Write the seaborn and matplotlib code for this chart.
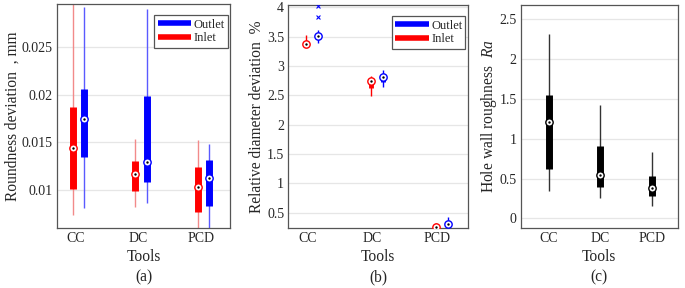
import numpy as np
import pandas as pd
import matplotlib
matplotlib.use("Agg")
import matplotlib.pyplot as plt
from matplotlib.lines import Line2D
import seaborn as sns

# ---------------- data ----------------
tools = ["CC", "DC", "PCD"]

# (a) roundness deviation, mm
a_in_lo  = [0.0074, 0.0082, 0.0058]
a_in_q1  = [0.0101, 0.0099, 0.0077]
a_in_med = [0.0144, 0.0117, 0.0103]
a_in_q3  = [0.0187, 0.0130, 0.0124]
a_in_hi  = [0.0300, 0.0153, 0.0152]
a_out_lo  = [0.0081, 0.0086, 0.0055]
a_out_q1  = [0.0135, 0.0108, 0.0083]
a_out_med = [0.0174, 0.0129, 0.0112]
a_out_q3  = [0.0206, 0.0199, 0.0131]
a_out_hi  = [0.0292, 0.0290, 0.0148]

# (b) relative diameter deviation, %
b_in_lo  = [3.33, 2.49, 0.20]
b_in_q1  = [3.35, 2.63, 0.23]
b_in_med = [3.37, 2.74, 0.26]
b_in_q3  = [3.39, 2.70, 0.29]
b_in_hi  = [3.53, 2.83, 0.33]
b_out_lo  = [3.40, 2.65, 0.27]
b_out_q1  = [3.48, 2.72, 0.28]
b_out_med = [3.52, 2.82, 0.31]
b_out_q3  = [3.56, 2.77, 0.36]
b_out_hi  = [3.62, 2.94, 0.42]
b_out_outliers = [[4.02, 3.83], [], []]

# (c) hole wall roughness Ra
c_lo  = [0.34, 0.26, 0.16]
c_q1  = [0.62, 0.39, 0.28]
c_med = [1.21, 0.55, 0.38]
c_q3  = [1.55, 0.91, 0.53]
c_hi  = [2.32, 1.43, 0.84]

# ---------------- style ----------------
sns.set_theme(style="white")
plt.rcParams["font.family"] = ["Liberation Serif", "DejaVu Serif"]
plt.rcParams["mathtext.fontset"] = "custom"
plt.rcParams["mathtext.it"] = "Liberation Serif:italic"
plt.rcParams["mathtext.rm"] = "Liberation Serif"

RED = "#ff0000"
BLUE = "#0000ff"
RED_W = "#f28a8a"
BLUE_W = "#5a5aff"
SPINE = "#555555"
TICK_FS = 10
LAB_FS = 11.2

fig = plt.figure(figsize=(6.85, 2.88), dpi=100)
axA = fig.add_axes([0.0832, 0.2083, 0.2526, 0.7778])
axB = fig.add_axes([0.4209, 0.2083, 0.2623, 0.7743])
axC = fig.add_axes([0.7601, 0.2083, 0.2292, 0.7743])

x = np.arange(1, len(tools) + 1)


def draw_group(ax, pos, lo, q1, med, q3, hi, col, wcol, boxw, msize):
    ax.vlines(pos, lo, hi, colors=wcol, lw=1.0, zorder=2)
    ax.vlines(pos, q1, q3, colors=col, lw=boxw, zorder=3)
    df = pd.DataFrame({"x": pos, "y": med})
    sns.scatterplot(data=df, x="x", y="y", ax=ax, s=msize, marker="o",
                    facecolor="white", edgecolor=col, linewidth=1.0, zorder=4,
                    legend=False)
    sns.scatterplot(data=df, x="x", y="y", ax=ax, s=3, marker="o",
                    color="black", linewidth=0, zorder=5, legend=False)


def style_axis(ax, ylabel, caption, ylab_x):
    ax.set_xticks(x)
    ax.set_xticklabels(tools, fontsize=TICK_FS)
    ax.set_xlim(0.7, 3.47)
    ax.grid(axis="y", color="#e6e6e6", lw=0.9)
    ax.set_axisbelow(True)
    for s in ax.spines.values():
        s.set_color(SPINE)
        s.set_linewidth(0.9)
    ax.tick_params(axis="both", length=0, labelsize=TICK_FS, pad=3)
    ax.set_xlabel("Tools\n" + caption, fontsize=LAB_FS,
                  linespacing=1.3, labelpad=3)
    ax.set_ylabel(ylabel, fontsize=LAB_FS)
    ax.yaxis.set_label_coords(ylab_x, 0.5)


def add_legend(ax):
    handles = [Line2D([0], [0], color=BLUE, lw=4.0, solid_capstyle="butt"),
               Line2D([0], [0], color=RED, lw=4.0, solid_capstyle="butt")]
    leg = ax.legend(handles, ["Outlet", "Inlet"], loc="upper right",
                    bbox_to_anchor=(1.0, 0.96), fontsize=9, frameon=True,
                    fancybox=False, framealpha=1, edgecolor=SPINE,
                    handlelength=2.7, handletextpad=0.15, borderpad=0.25,
                    labelspacing=0.15, borderaxespad=0.2)
    leg.get_frame().set_linewidth(0.9)


# (a)
draw_group(axA, x - 0.05, a_in_lo, a_in_q1, a_in_med, a_in_q3, a_in_hi,
           RED, RED_W, 5.0, 28)
draw_group(axA, x + 0.14, a_out_lo, a_out_q1, a_out_med, a_out_q3, a_out_hi,
           BLUE, BLUE_W, 5.0, 28)
axA.set_ylim(0.006, 0.0295)
axA.set_yticks([0.01, 0.015, 0.02, 0.025])
axA.set_yticklabels(["0.01", "0.015", "0.02", "0.025"])
style_axis(axA, "Roundness deviation  , mm", "(a)", -0.212)
add_legend(axA)

# (b)
draw_group(axB, x - 0.02, b_in_lo, b_in_q1, b_in_med, b_in_q3, b_in_hi,
           RED, RED, 3.5, 28)
draw_group(axB, x + 0.16, b_out_lo, b_out_q1, b_out_med, b_out_q3, b_out_hi,
           BLUE, BLUE, 3.5, 28)
ox, oy = [], []
for i, outs in enumerate(b_out_outliers):
    for v in outs:
        ox.append(x[i] + 0.16)
        oy.append(v)
sns.scatterplot(x=ox, y=oy, ax=axB, marker="x", color=BLUE, s=8,
                linewidth=0.8, zorder=4, legend=False)
axB.set_ylim(0.24, 4.04)
axB.set_yticks([0.5, 1, 1.5, 2, 2.5, 3, 3.5, 4])
axB.set_yticklabels(["0.5", "1", "1.5", "2", "2.5", "3", "3.5", "4"])
style_axis(axB, "Relative diameter deviation  %", "(b)", -0.127)
add_legend(axB)

# (c)
draw_group(axC, x, c_lo, c_q1, c_med, c_q3, c_hi, "black", "#333333", 5.0, 28)
axC.set_ylim(-0.12, 2.68)
axC.set_yticks([0, 0.5, 1, 1.5, 2, 2.5])
axC.set_yticklabels(["0", "0.5", "1", "1.5", "2", "2.5"])
style_axis(axC, r"Hole wall roughness  $\it{Ra}$", "(c)", -0.135)
axC.set_xlim(0.45, 3.5)

fig.savefig("out.png", dpi=100)
